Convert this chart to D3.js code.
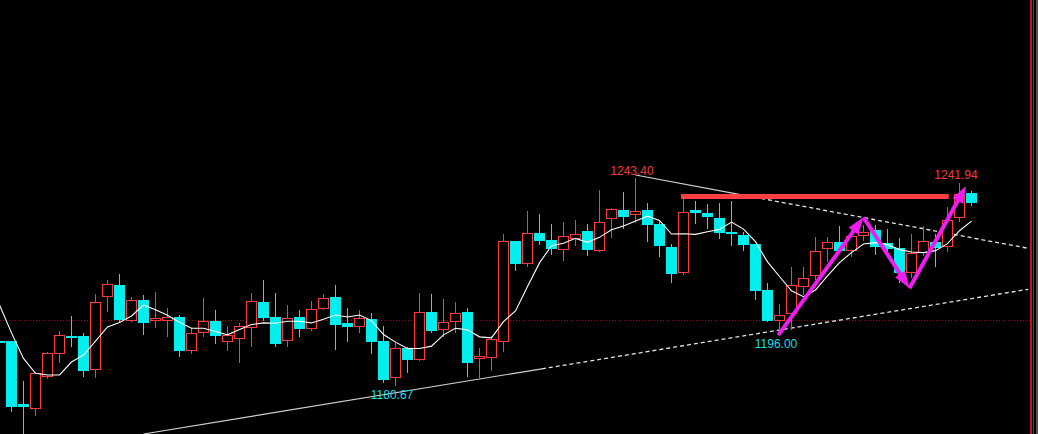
<!DOCTYPE html>
<html><head><meta charset="utf-8">
<script src="https://cdn.jsdelivr.net/npm/d3@7/dist/d3.min.js"></script>
<style>html,body{margin:0;padding:0;background:#000;overflow:hidden}svg{display:block}</style>
</head><body><svg id="chart" width="1038" height="434"></svg>
<script>
// ---- data ----
const opens = [1194.2,1194.2,1175.3,1173.7,1183.4,1190.3,1195.8,1195.8,1185.5,1207.5,
 1211.1,1200.3,1206.6,1200.3,1200.3,1201.5,1191.2,1196.7,1200.3,1193.9,
 1194.9,1198.2,1206.0,1201.5,1194.2,1201.5,1197.9,1203.9,1207.5,1199.7,
 1198.5,1200.9,1194.2,1183.1,1192.1,1188.5,1203.0,1197.6,1200.0,1203.0,
 1188.8,1189.1,1193.9,1224.4,1217.5,1226.8,1224.7,1221.7,1225.0,1227.4,
 1221.4,1231.0,1233.8,1232.2,1233.8,1229.5,1222.6,1214.8,1233.8,1232.9,
 1231.3,1227.1,1226.2,1223.5,1209.6,1200.3,1202.4,1210.5,1213.9,1222.0,
 1224.1,1221.4,1225.9,1227.7,1223.8,1222.3,1214.8,1220.8,1224.1,1222.6,
 1231.3,1238.9];
const highs = [1195.2,1194.3,1182.2,1184.9,1190.9,1197.3,1201.8,1196.7,1208.4,1212.6,
 1214.5,1207.5,1208.1,1209.0,1204.2,1202.1,1198.2,1207.2,1203.6,1198.8,
 1199.7,1208.7,1212.6,1208.7,1205.1,1203.6,1206.3,1208.4,1211.1,1204.2,
 1203.6,1202.7,1198.8,1193.6,1192.4,1208.7,1208.4,1206.9,1206.0,1204.2,
 1192.1,1195.8,1226.5,1224.4,1233.5,1232.5,1229.5,1230.1,1230.7,1229.5,
 1239.8,1234.4,1239.2,1243.40,1235.9,1230.4,1223.5,1237.1,1236.5,1235.6,
 1235.9,1236.5,1227.1,1223.5,1211.7,1205.4,1216.6,1216.6,1225.6,1225.6,
 1228.9,1227.7,1229.2,1229.2,1228.0,1225.3,1226.5,1228.9,1226.5,1234.7,
 1241.94,1239.5];
const lows = [1192.7,1172.8,1164.4,1171.6,1182.8,1187.6,1192.4,1183.4,1183.1,1203.0,
 1200.0,1200.0,1196.1,1198.2,1195.5,1189.4,1190.3,1195.5,1193.3,1191.2,
 1187.6,1192.4,1200.3,1192.4,1192.4,1195.5,1197.3,1203.6,1191.5,1193.9,
 1196.7,1190.3,1181.6,1180.67,1184.6,1188.2,1196.7,1195.5,1196.7,1183.4,
 1183.1,1185.2,1190.9,1215.4,1216.6,1223.2,1220.2,1218.4,1222.9,1219.9,
 1221.1,1225.3,1228.0,1229.8,1224.1,1219.6,1211.7,1214.2,1229.5,1228.0,
 1225.0,1222.9,1221.4,1206.6,1200.0,1196.00,1197.6,1208.1,1212.6,1218.1,
 1220.8,1219.6,1224.4,1220.2,1221.1,1211.7,1213.2,1219.9,1216.6,1221.1,
 1230.1,1235.0];
const closes = [1193.6,1174.3,1174.3,1184.6,1190.6,1196.0,1195.2,1185.2,1206.0,1211.4,
 1200.6,1206.6,1199.7,1201.2,1201.5,1191.2,1196.7,1200.3,1195.8,1196.1,
 1198.8,1206.3,1201.2,1193.3,1201.2,1197.9,1203.9,1207.2,1199.1,1198.5,
 1201.2,1193.9,1182.5,1192.1,1188.5,1203.0,1197.3,1200.0,1202.7,1187.6,
 1189.7,1194.9,1224.4,1217.5,1226.8,1224.4,1222.0,1225.9,1226.5,1221.7,
 1230.1,1234.1,1231.6,1233.5,1229.2,1222.9,1214.5,1233.2,1232.9,1231.6,
 1226.8,1226.8,1223.2,1209.3,1200.3,1202.1,1211.1,1213.2,1221.4,1224.1,
 1221.4,1225.9,1227.1,1222.6,1222.0,1214.8,1220.8,1224.4,1222.3,1230.7,
 1238.6,1235.9];
const maValues = [1205.1,1196.7,1189.0,1184.5,1184.0,1184.0,1187.9,1190.0,1194.2,1198.5,
 1199.8,1201.8,1205.1,1203.7,1202.0,1199.9,1198.1,1198.1,1197.1,1196.1,
 1197.7,1199.2,1199.7,1199.6,1200.2,1200.2,1199.7,1200.8,1202.1,1201.5,
 1202.1,1200.4,1196.2,1193.9,1192.0,1192.0,1192.7,1196.1,1198.1,1197.6,
 1195.5,1195.2,1200.1,1203.3,1210.7,1217.8,1223.0,1223.7,1225.2,1224.0,
 1225.5,1227.8,1228.9,1230.4,1231.9,1230.6,1226.5,1226.6,1226.4,1227.2,
 1227.9,1230.1,1228.0,1224.2,1218.1,1213.7,1209.4,1207.6,1209.6,1213.9,
 1217.9,1220.9,1223.5,1223.9,1223.3,1221.8,1221.1,1220.9,1221.5,1223.6,
 1227.5,1230.4];
// annotated extremes
const extremeIdx = [53, 80, 65, 33];
const extremeText = ["1243.40", "1241.94", "1196.00", "1180.67"];
const extremeKind = ["high", "high", "low", "low"];
const refLevel = 1200.28;            // dotted reference level
const resistLevel = 1237.8;          // thick red horizontal
const resistSpan = [56.8, 79.1];
const upperTrend = [[53, 1244.3], [85.73, 1222.2]];
const upperSolidEnd = 61.75;
const lowerTrend = [[12, 1166.2], [85.73, 1209.84]];
const lowerSolidEnd = 45.2;
const arrowPts = [[64.9, 1196.0], [72.0, 1231.55], [75.83, 1210.14], [80.54, 1241.0]];

// ---- drawing ----
const W = 1038, H = 434;
const svg = d3.select("#chart");
svg.append("rect").attr("width", W).attr("height", H).attr("fill", "#000");

const x = d3.scaleLinear().domain([0, 81]).range([-0.5, 971.5]);
const y = d3.scaleLinear().domain([1166.2, 1297.08]).range([H, 0]);

const RED = "#ff3c3c", CYAN = "#00eeee";

// dotted reference line
const ry = Math.floor(y(refLevel)) + 0.5;
svg.append("line").attr("x1", 0).attr("x2", 1030).attr("y1", ry).attr("y2", ry)
  .attr("stroke", "#9a0a0a").attr("stroke-width", 1).attr("stroke-dasharray", "1,2");

// trendlines
function trendAt(tr, i) {
  const [a, b] = tr; const t = (i - a[0]) / (b[0] - a[0]);
  return a[1] + t * (b[1] - a[1]);
}
function seg(tr, i0, i1, dashed) {
  svg.append("line")
    .attr("x1", x(i0)).attr("y1", y(trendAt(tr, i0)))
    .attr("x2", x(i1)).attr("y2", y(trendAt(tr, i1)))
    .attr("stroke", dashed ? "#e4e4e4" : "#d0d0d0").attr("stroke-width", dashed ? 1.3 : 1.1)
    .attr("stroke-dasharray", dashed ? "4,3" : null);
}
seg(upperTrend, upperTrend[0][0], upperSolidEnd, false);
seg(upperTrend, upperSolidEnd, upperTrend[1][0], true);
seg(lowerTrend, lowerTrend[0][0], lowerSolidEnd, false);
seg(lowerTrend, lowerSolidEnd, lowerTrend[1][0], true);

// candles
const candles = opens.map((o, i) => ({i, o, h: highs[i], l: lows[i], c: closes[i]}));
const g = svg.append("g");
candles.forEach(d => {
  const cx = x(d.i);
  const up = d.c >= d.o;
  const top = Math.round(y(Math.max(d.o, d.c)));
  const bot = Math.round(y(Math.min(d.o, d.c)));
  const hy = Math.round(y(d.h)), ly = Math.round(y(d.l));
  if (up) {
    g.append("line").attr("x1", cx).attr("x2", cx).attr("y1", hy).attr("y2", top)
      .attr("stroke", RED).attr("shape-rendering", "crispEdges");
    g.append("line").attr("x1", cx).attr("x2", cx).attr("y1", bot).attr("y2", ly)
      .attr("stroke", RED).attr("shape-rendering", "crispEdges");
    g.append("rect").attr("x", cx - 5).attr("y", top + 0.5)
      .attr("width", 10).attr("height", Math.max(1, bot - top - 1))
      .attr("fill", "#000").attr("stroke", RED).attr("stroke-width", 1)
      .attr("shape-rendering", "crispEdges");
  } else {
    g.append("line").attr("x1", cx).attr("x2", cx).attr("y1", hy).attr("y2", ly)
      .attr("stroke", CYAN).attr("shape-rendering", "crispEdges");
    g.append("rect").attr("x", cx - 5.5).attr("y", top)
      .attr("width", 11).attr("height", Math.max(2, bot - top))
      .attr("fill", CYAN).attr("shape-rendering", "crispEdges");
  }
});

// moving average
svg.append("path").datum(maValues)
  .attr("d", d3.line().x((v, i) => x(i)).y(v => y(v)))
  .attr("fill", "none").attr("stroke", "#ffffff").attr("stroke-width", 1.1);

// resistance bar
const by = y(resistLevel);
svg.append("line").attr("x1", x(resistSpan[0])).attr("x2", x(resistSpan[1]))
  .attr("y1", by).attr("y2", by).attr("stroke", "#ff3f3f").attr("stroke-width", 5);

// magenta arrows
const MAG = "#f01cf0";
for (let k = 0; k < arrowPts.length - 1; k++) {
  const x0 = x(arrowPts[k][0]), y0 = y(arrowPts[k][1]);
  const x1 = x(arrowPts[k + 1][0]), y1 = y(arrowPts[k + 1][1]);
  const dx = x1 - x0, dy = y1 - y0, len = Math.hypot(dx, dy);
  const ux = dx / len, uy = dy / len, px = -uy, py = ux;
  const hl = 17, hw = 6;
  const bx = x1 - ux * hl, byy = y1 - uy * hl;
  svg.append("line").attr("x1", x0).attr("y1", y0).attr("x2", bx + ux * 3).attr("y2", byy + uy * 3)
    .attr("stroke", MAG).attr("stroke-width", 4);
  svg.append("path")
    .attr("d", `M${x1},${y1}L${bx + px * hw},${byy + py * hw}L${bx - px * hw},${byy - py * hw}Z`)
    .attr("fill", MAG);
}

// labels
extremeIdx.forEach((idx, k) => {
  const isHigh = extremeKind[k] === "high";
  const price = isHigh ? highs[idx] : lows[idx];
  svg.append("text")
    .attr("x", x(idx) - 3.5)
    .attr("y", y(price) + (isHigh ? -3.5 : 13))
    .attr("text-anchor", "middle")
    .attr("font-family", "'Liberation Sans', Arial, sans-serif")
    .attr("font-size", 12)
    .attr("fill", isHigh ? "#f03c3c" : "#1cdce4")
    .text(extremeText[k]);
});

// right edge frame lines
svg.append("rect").attr("x", 1030).attr("y", 0).attr("width", 2).attr("height", H).attr("fill", "#c81010");
svg.append("rect").attr("x", 1033).attr("y", 0).attr("width", 1).attr("height", H).attr("fill", "#b01010");
svg.append("rect").attr("x", 1036).attr("y", 0).attr("width", 2).attr("height", H).attr("fill", "#505050");
</script>
</body></html>
